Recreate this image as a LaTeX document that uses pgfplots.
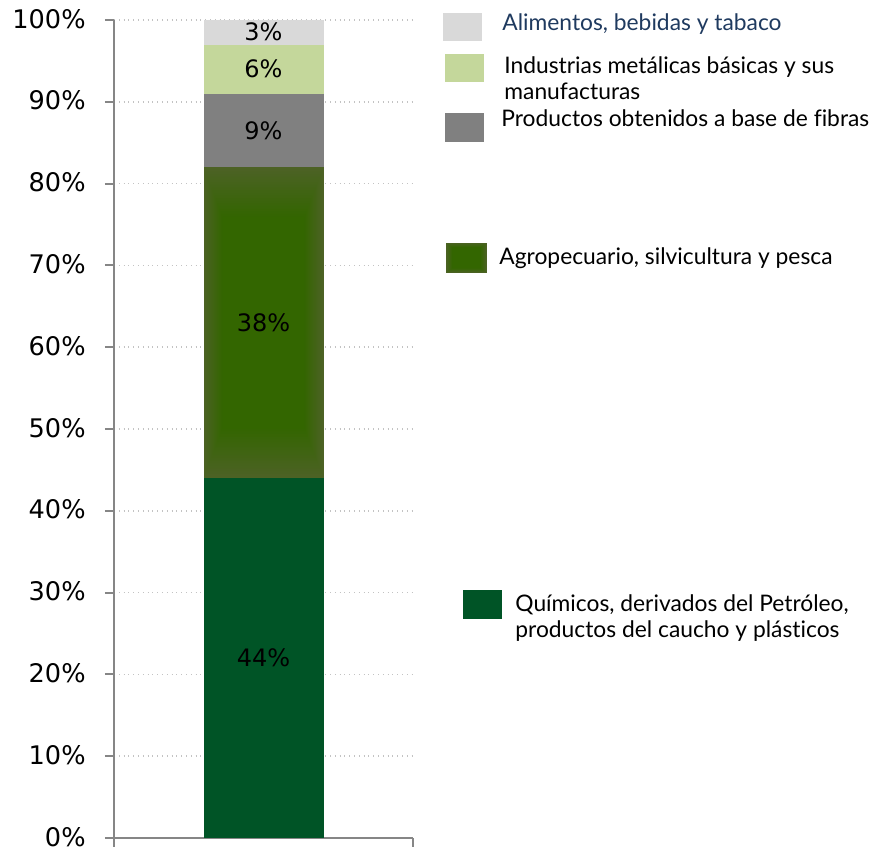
\documentclass[border=0pt]{standalone}
\usepackage{pgfplots}
\pgfplotsset{compat=1.18}
\usetikzlibrary{fadings}
\usepackage{fontspec}
\setmainfont{Lato}[Ligatures={NoCommon}]
\newfontfamily\numfont{DejaVu Sans}
\definecolor{alim}{HTML}{D9D9D9}
\definecolor{indus}{HTML}{C4D79B}
\definecolor{prod}{HTML}{808080}
\definecolor{agroEdge}{HTML}{4F6228}
\definecolor{agroIn}{HTML}{336600}
\definecolor{quim}{HTML}{005426}
\definecolor{axisgray}{HTML}{868686}
\definecolor{navy}{HTML}{1F3A5F}

\begin{tikzfadingfrompicture}[name=glow]
  \fill[transparent!100] (-1cm,-1cm) rectangle (1cm,1cm);
  \foreach \k in {0,...,20} {
    \pgfmathsetmacro\f{0.10+0.30*\k/20}
    \pgfmathtruncatemacro\o{100-5*\k}
    \fill[transparent!\o] (-1cm+\f cm,-1cm+\f cm) rectangle (1cm-\f cm,1cm-\f cm);
  }
\end{tikzfadingfrompicture}

\tikzset{agrofill/.style={fill=agroEdge, postaction={fill=agroIn, path fading=glow, fit fading=true}}}

\begin{document}
\begin{tikzpicture}
\path[use as bounding box] (0,0) rectangle (436.5pt,425pt);
\begin{axis}[
  at={(57pt,6pt)}, anchor=south west,
  scale only axis, width=149.5pt, height=409pt,
  ybar stacked, bar width=60pt,
  xmin=-0.5, xmax=0.5, ymin=0, ymax=100,
  xtick={-0.5,0.5}, xticklabels={}, xtick pos=bottom,
  ytick={0,10,...,100}, ytick pos=left,
  tick align=outside, major tick length=4.5pt,
  axis x line*=bottom, axis y line*=left,
  axis line style={axisgray, line width=1pt},
  every tick/.style={axisgray, line width=1pt},
  ymajorgrids, grid style={axisgray!50, dotted, line width=0.8pt},
  yticklabel={\pgfmathprintnumber{\tick}\%},
  /pgf/number format/assume math mode=true,
  yticklabel style={font=\numfont\fontsize{12.8}{15}\selectfont, inner sep=0pt, xshift=-9.5pt, yshift=0.6pt},
  nodes near coords={\pgfmathprintnumber{\pgfplotspointmeta}\%},
  every node near coord/.append style={font=\numfont\fontsize{12}{14}\selectfont, anchor=center, black},
]
\addplot+[fill=quim, draw=none] coordinates {(0,44)};
\addplot+[agrofill, draw=none] coordinates {(0,38)};
\addplot+[fill=prod, draw=none] coordinates {(0,9)};
\addplot+[fill=indus, draw=none] coordinates {(0,6)};
\addplot+[fill=alim, draw=none] coordinates {(0,3)};
\end{axis}
% legend
\begin{scope}[every node/.style={inner sep=0pt, anchor=west, align=left, font=\fontsize{11.4}{13}\selectfont}]
\fill[alim] (221.5pt,404.5pt) rectangle (241pt,418.5pt);
\node[text=navy] at (251pt,413pt) {Alimentos, bebidas y tabaco};
\fill[indus] (222.5pt,384pt) rectangle (242pt,398pt);
\node at (252pt,386pt) {Industrias metálicas básicas y sus\\manufacturas};
\fill[prod] (222.5pt,354pt) rectangle (242pt,368.5pt);
\node at (250.5pt,366pt) {Productos obtenidos a base de fibras};
\path[agrofill] (223pt,288.5pt) rectangle (243.5pt,303.5pt);
\node at (249.5pt,296pt) {Agropecuario, silvicultura y pesca};
\fill[quim] (231.5pt,115.5pt) rectangle (251pt,130pt);
\node at (257.5pt,115.75pt) {Químicos, derivados del Petróleo,\\productos del caucho y plásticos};
\end{scope}
\end{tikzpicture}
\end{document}
